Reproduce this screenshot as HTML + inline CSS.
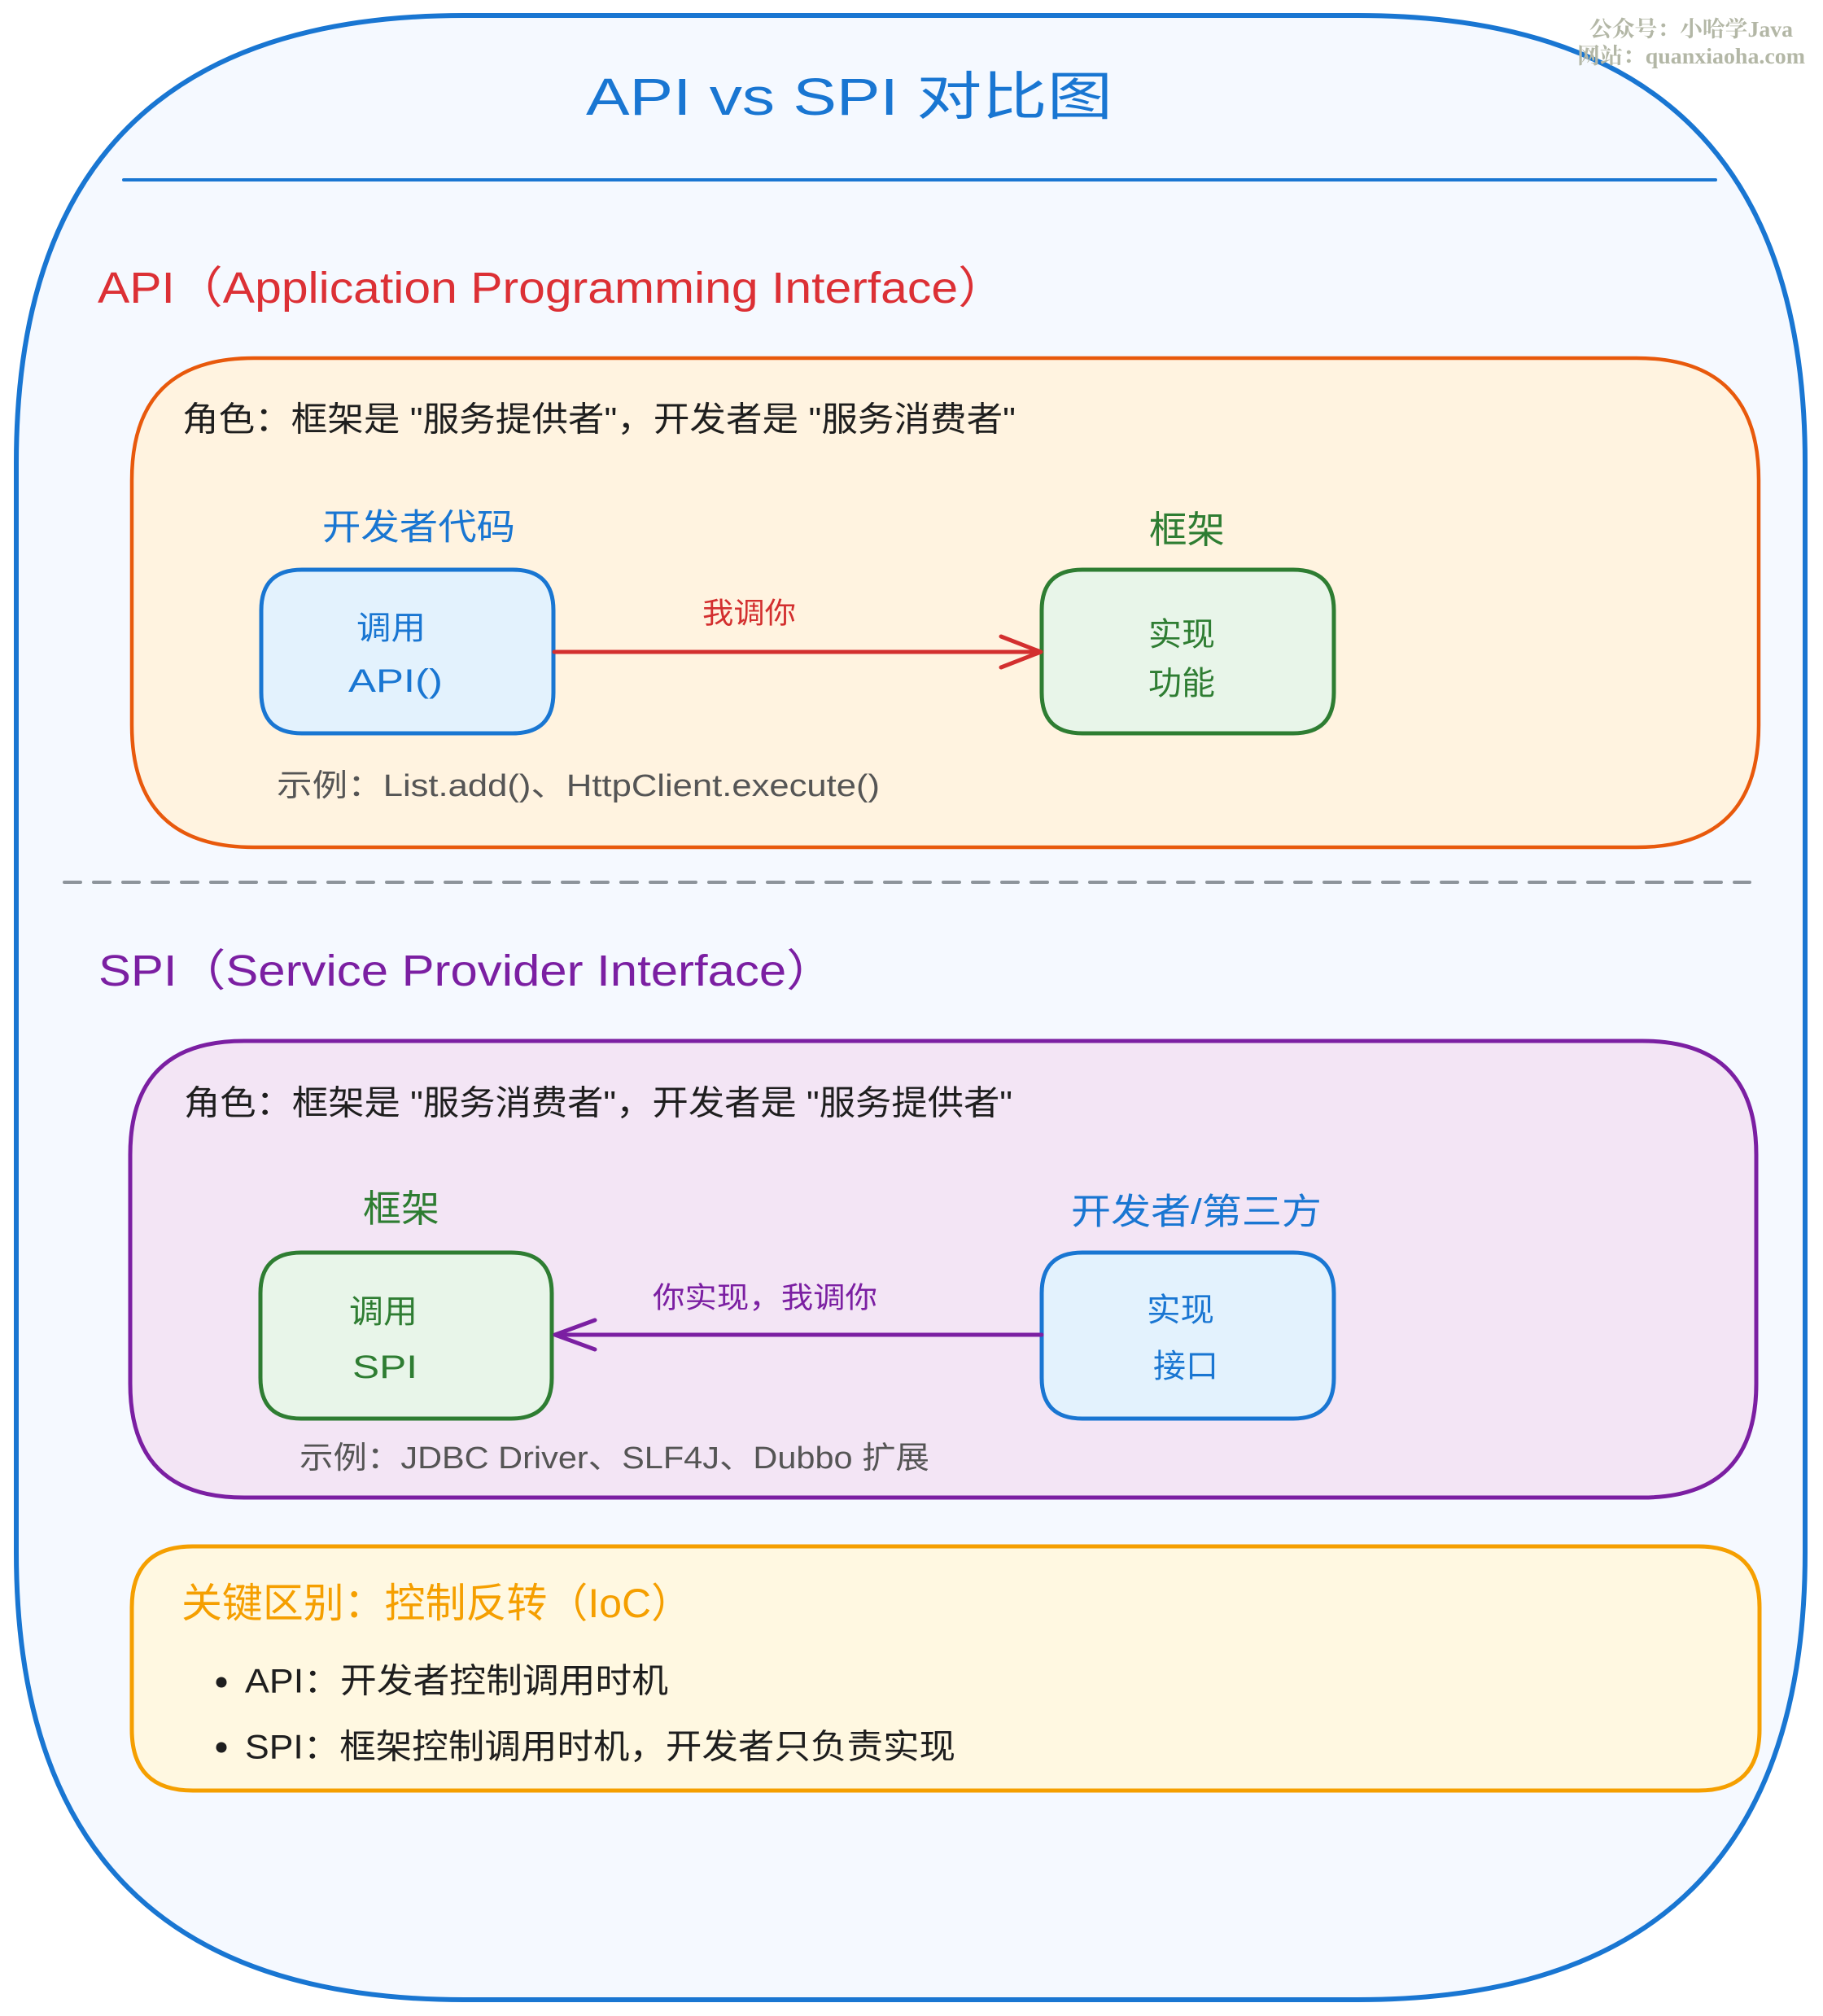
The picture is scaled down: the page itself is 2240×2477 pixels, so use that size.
<!DOCTYPE html>
<html>
<head>
<meta charset="utf-8">
<style>
  html, body { margin: 0; padding: 0; background: #ffffff; }
  body { width: 2240px; height: 2477px; overflow: hidden; }
  svg { display: block; }
  .t { font-family: "Liberation Sans", "Noto Sans CJK SC", sans-serif; dominant-baseline: central; }
  .wm { font-family: "Liberation Serif", "Noto Serif CJK SC", serif; font-weight: bold; dominant-baseline: central; }
</style>
</head>
<body>
<svg width="2240" height="2477" viewBox="0 0 2240 2477" xmlns="http://www.w3.org/2000/svg">
  <rect x="0" y="0" width="2240" height="2477" fill="#ffffff"/>

  <!-- Outer container -->
  <path d="M570,19 L1668,19 Q2218,19 2218,569 L2218,1907 Q2218,2457 1668,2457 L570,2457 Q20,2457 20,1907 L20,569 Q20,19 570,19 Z"
        fill="#f5f9ff" stroke="#1976d2" stroke-width="6" stroke-linejoin="round"/>

  <!-- Watermark -->
  <text class="wm" x="1953" y="36" font-size="27" fill="#b3b7a6" textLength="250" lengthAdjust="spacingAndGlyphs">公众号：小哈学Java</text>
  <text class="wm" x="1938" y="69" font-size="27" fill="#b3b7a6" textLength="280" lengthAdjust="spacingAndGlyphs">网站：quanxiaoha.com</text>

  <!-- Title -->
  <text class="t" x="720" y="119" font-size="64" fill="#1976d2" textLength="647" lengthAdjust="spacingAndGlyphs">API vs SPI 对比图</text>
  <line x1="152" y1="221" x2="2108" y2="221" stroke="#1976d2" stroke-width="4" stroke-linecap="round"/>

  <!-- API section heading -->
  <text class="t" x="120" y="354" font-size="54" fill="#dc3035" textLength="1116" lengthAdjust="spacingAndGlyphs">API（Application Programming Interface）</text>

  <!-- API box -->
  <path d="M312,440 L2011,440 Q2161,440 2161,590 L2161,891 Q2161,1041 2011,1041 L312,1041 Q162,1041 162,891 L162,590 Q162,440 312,440 Z"
        fill="#fff3e0" stroke="#e8590c" stroke-width="4.5" stroke-linejoin="round"/>

  <text class="t" x="224" y="515" font-size="42" fill="#1e1e1e" textLength="1024" lengthAdjust="spacingAndGlyphs">角色：框架是 "服务提供者"，开发者是 "服务消费者"</text>

  <text class="t" x="396" y="648" font-size="44" fill="#1976d2" textLength="237" lengthAdjust="spacingAndGlyphs">开发者代码</text>
  <text class="t" x="1412" y="651" font-size="46" fill="#2e7d32" textLength="93" lengthAdjust="spacingAndGlyphs">框架</text>

  <!-- Blue box (developer code) -->
  <path d="M371,700 L630,700 Q680,700 680,750 L680,851 Q680,901 630,901 L371,901 Q321,901 321,851 L321,750 Q321,700 371,700 Z"
        fill="#e3f2fd" stroke="#1976d2" stroke-width="5" stroke-linejoin="round"/>
  <text class="t" x="438" y="772" font-size="40" fill="#1976d2" textLength="85" lengthAdjust="spacingAndGlyphs">调用</text>
  <text class="t" x="428" y="837" font-size="40" fill="#1976d2" textLength="116" lengthAdjust="spacingAndGlyphs">API()</text>

  <!-- Green box (framework) -->
  <path d="M1330,700 L1589,700 Q1639,700 1639,750 L1639,851 Q1639,901 1589,901 L1330,901 Q1280,901 1280,851 L1280,750 Q1280,700 1330,700 Z"
        fill="#e8f5e9" stroke="#2e7d32" stroke-width="5" stroke-linejoin="round"/>
  <text class="t" x="1411" y="780" font-size="40" fill="#2e7d32" textLength="82" lengthAdjust="spacingAndGlyphs">实现</text>
  <text class="t" x="1411" y="840" font-size="40" fill="#2e7d32" textLength="82" lengthAdjust="spacingAndGlyphs">功能</text>

  <!-- Red arrow -->
  <line x1="681" y1="801" x2="1278" y2="801" stroke="#d32f2f" stroke-width="5" stroke-linecap="round"/>
  <polyline points="1230,782 1279,801 1230,820" fill="none" stroke="#d32f2f" stroke-width="5" stroke-linecap="round" stroke-linejoin="round"/>
  <text class="t" x="863" y="753" font-size="36" fill="#d32f2f" textLength="115" lengthAdjust="spacingAndGlyphs">我调你</text>

  <text class="t" x="340" y="966" font-size="38" fill="#555555" textLength="741" lengthAdjust="spacingAndGlyphs">示例：List.add()、HttpClient.execute()</text>

  <!-- Dashed separator -->
  <line x1="79" y1="1084" x2="2150" y2="1084" stroke="#8d949b" stroke-width="4" stroke-dasharray="20 16" stroke-linecap="round"/>

  <!-- SPI section heading -->
  <text class="t" x="121" y="1193" font-size="54" fill="#7b1fa2" textLength="905" lengthAdjust="spacingAndGlyphs">SPI（Service Provider Interface）</text>

  <!-- SPI box -->
  <path d="M300,1279 L2018,1279 Q2158,1279 2158,1419 L2158,1700 Q2158,1840 2018,1840 L300,1840 Q160,1840 160,1700 L160,1419 Q160,1279 300,1279 Z"
        fill="#f3e5f5" stroke="#7b1fa2" stroke-width="5" stroke-linejoin="round"/>

  <text class="t" x="226" y="1355" font-size="42" fill="#1e1e1e" textLength="1018" lengthAdjust="spacingAndGlyphs">角色：框架是 "服务消费者"，开发者是 "服务提供者"</text>

  <text class="t" x="446" y="1485" font-size="46" fill="#2e7d32" textLength="94" lengthAdjust="spacingAndGlyphs">框架</text>
  <text class="t" x="1316" y="1489" font-size="44" fill="#1976d2" textLength="308" lengthAdjust="spacingAndGlyphs">开发者/第三方</text>

  <!-- Green box (framework calls SPI) -->
  <path d="M370,1539 L628,1539 Q678,1539 678,1589 L678,1693 Q678,1743 628,1743 L370,1743 Q320,1743 320,1693 L320,1589 Q320,1539 370,1539 Z"
        fill="#e8f5e9" stroke="#2e7d32" stroke-width="5" stroke-linejoin="round"/>
  <text class="t" x="429" y="1612" font-size="40" fill="#2e7d32" textLength="84" lengthAdjust="spacingAndGlyphs">调用</text>
  <text class="t" x="433" y="1680" font-size="40" fill="#2e7d32" textLength="80" lengthAdjust="spacingAndGlyphs">SPI</text>

  <!-- Blue box (implementation) -->
  <path d="M1330,1539 L1589,1539 Q1639,1539 1639,1589 L1639,1693 Q1639,1743 1589,1743 L1330,1743 Q1280,1743 1280,1693 L1280,1589 Q1280,1539 1330,1539 Z"
        fill="#e3f2fd" stroke="#1976d2" stroke-width="5" stroke-linejoin="round"/>
  <text class="t" x="1409" y="1610" font-size="40" fill="#1976d2" textLength="83" lengthAdjust="spacingAndGlyphs">实现</text>
  <text class="t" x="1417" y="1679" font-size="40" fill="#1976d2" textLength="80" lengthAdjust="spacingAndGlyphs">接口</text>

  <!-- Purple arrow -->
  <line x1="683" y1="1640" x2="1280" y2="1640" stroke="#7b1fa2" stroke-width="5" stroke-linecap="round"/>
  <polyline points="731,1622 682,1640 731,1658" fill="none" stroke="#7b1fa2" stroke-width="5" stroke-linecap="round" stroke-linejoin="round"/>
  <text class="t" x="802" y="1594" font-size="36" fill="#7b1fa2" textLength="276" lengthAdjust="spacingAndGlyphs">你实现，我调你</text>

  <text class="t" x="368" y="1792" font-size="38" fill="#555555" textLength="774" lengthAdjust="spacingAndGlyphs">示例：JDBC Driver、SLF4J、Dubbo 扩展</text>

  <!-- Key difference box -->
  <path d="M237,1900 L2087,1900 Q2162,1900 2162,1975 L2162,2125 Q2162,2200 2087,2200 L237,2200 Q162,2200 162,2125 L162,1975 Q162,1900 237,1900 Z"
        fill="#fff8e1" stroke="#f59f00" stroke-width="5" stroke-linejoin="round"/>

  <text class="t" x="223" y="1970" font-size="50" fill="#f59f00" textLength="627" lengthAdjust="spacingAndGlyphs">关键区别：控制反转（IoC）</text>

  <circle cx="272" cy="2067" r="6.5" fill="#1e1e1e"/>
  <text class="t" x="301" y="2065" font-size="42" fill="#1e1e1e" textLength="520" lengthAdjust="spacingAndGlyphs">API：开发者控制调用时机</text>

  <circle cx="272" cy="2147" r="6.5" fill="#1e1e1e"/>
  <text class="t" x="301" y="2146" font-size="42" fill="#1e1e1e" textLength="873" lengthAdjust="spacingAndGlyphs">SPI：框架控制调用时机，开发者只负责实现</text>
</svg>
</body>
</html>
